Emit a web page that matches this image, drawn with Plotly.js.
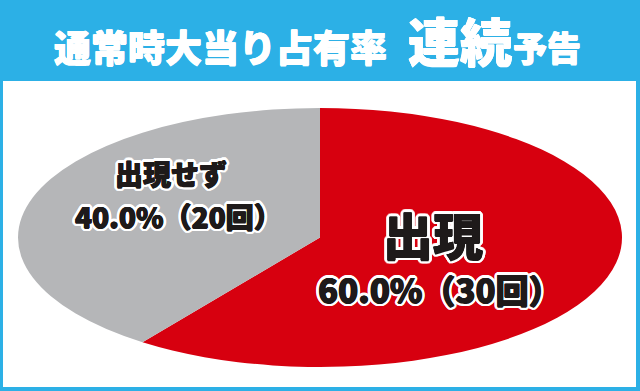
<!DOCTYPE html>
<html>
<head>
<meta charset="utf-8">
<script src="https://cdn.plot.ly/plotly-3.0.1.min.js"></script>
<style>
html,body{margin:0;padding:0;background:#fff;}
#chart{width:640px;height:391px;}
</style>
</head>
<body>
<div id="chart"></div>
<script>
// ---- data ----
var labels = ['出現', '出現せず'];
var counts = [30, 20];
var percentText = ['60.0%（30回）', '40.0%（20回）'];
var titleMain = '通常時大当り占有率';
var titleBig = '連続';
var titleTail = '予告';

// ---- geometry / style ----
var W = 640, H = 391;
var cx = 320, cy = 237.5, rx = 302, ry = 129.5;
var BLUE = '#2cb0e6', RED = '#d7000f', GRAY = '#b5b6b8', INK = '#1e1a1a';
var FONT = '"Noto Sans CJK JP", "Noto Sans", sans-serif';

function ring(color, r){
  var out = [];
  for (var i = 0; i < 16; i++) {
    var a = i * Math.PI / 8;
    out.push((r * Math.cos(a)).toFixed(2) + 'px ' + (r * Math.sin(a)).toFixed(2) + 'px 0 ' + color);
  }
  return out;
}
var heavyInk = ['0.6px 0 0 ' + INK, '-0.6px 0 0 ' + INK, '0 0.5px 0 ' + INK, '0 -0.5px 0 ' + INK];
var outline = heavyInk.concat(ring('#fff', 1.8), ring('#fff', 3.2)).join(', ');
var heavyWhite = ['0.6px 0 0 #fff', '-0.6px 0 0 #fff', '0 0.5px 0 #fff', '0 -0.5px 0 #fff'].join(', ');

function px(x){ return x / W; }
function py(y){ return 1 - y / H; }

var trace = {
  type: 'pie',
  labels: labels,
  values: counts,
  sort: false,
  direction: 'clockwise',
  rotation: 0,
  textinfo: 'none',
  hoverinfo: 'label+value+percent',
  marker: {colors: [RED, GRAY], line: {width: 0}},
  domain: {x: [px(cx - ry), px(cx + ry)], y: [py(cy + ry), py(cy - ry)]},
  showlegend: false
};

function ann(text, x, y, size, color, shadow, yanchor){
  return {
    text: text, x: px(x), y: py(y), xref: 'paper', yref: 'paper',
    xanchor: 'center', yanchor: yanchor || 'middle', showarrow: false,
    font: {family: FONT, size: size, color: color, weight: 900, shadow: shadow || 'none'}
  };
}

var layout = {
  width: W, height: H,
  margin: {l: 0, r: 0, t: 0, b: 0},
  paper_bgcolor: BLUE,
  plot_bgcolor: BLUE,
  showlegend: false,
  shapes: [{
    type: 'rect', xref: 'paper', yref: 'paper', layer: 'below',
    x0: px(3), x1: px(636), y0: py(387), y1: py(81),
    fillcolor: '#ffffff', line: {width: 0}
  }],
  annotations: [
    ann(titleMain, 220.5, 46, 37, '#ffffff', heavyWhite),
    ann(titleBig, 460, 40, 52, '#ffffff', heavyWhite),
    ann(titleTail, 547, 47, 34, '#ffffff', heavyWhite),
    ann(labels[1], 170.5, 195, 28, INK, outline, 'bottom'),
    ann(percentText[1], 178, 194, 28, INK, outline, 'top'),
    ann(labels[0], 433, 233, 50, INK, outline),
    ann(percentText[0], 440, 289, 33, INK, outline)
  ]
};

Plotly.newPlot('chart', [trace], layout, {displayModeBar: false, staticPlot: true}).then(function(gd){
  var s = rx / ry;
  var layer = gd.querySelector('.pielayer');
  if (layer) {
    layer.setAttribute('transform', 'translate(' + cx + ',0) scale(' + s + ',1) translate(' + (-cx) + ',0)');
  }
});
</script>
</body>
</html>
